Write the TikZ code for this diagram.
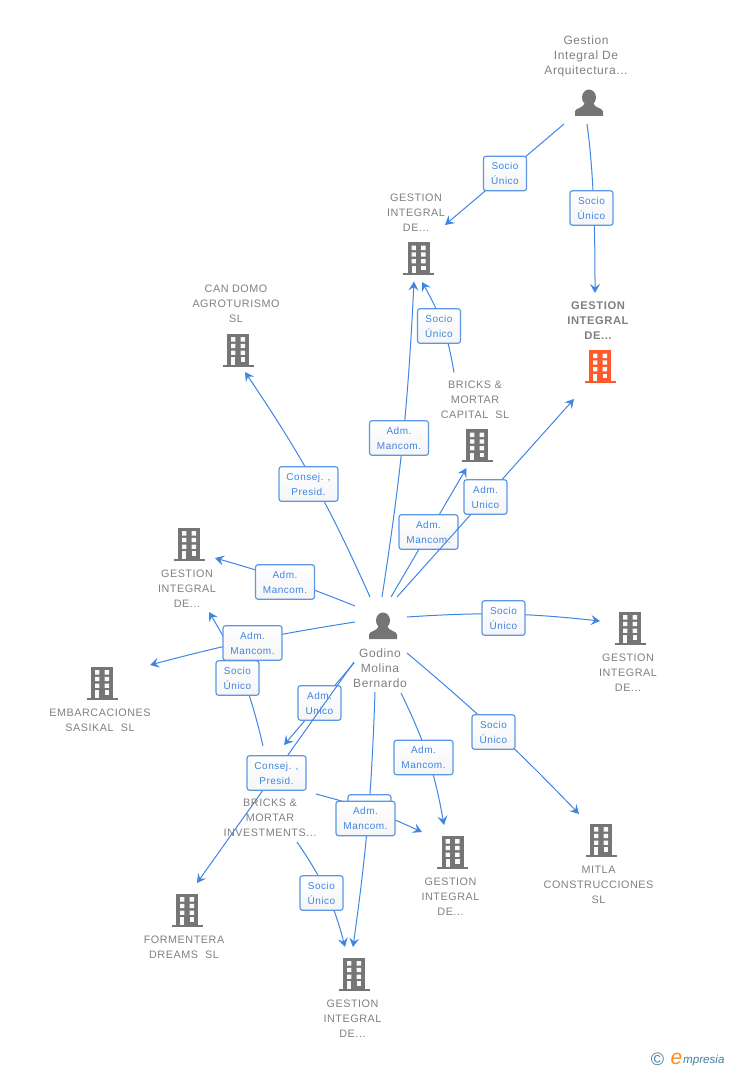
\documentclass[tikz,border=0pt]{standalone}
\usepackage{fontspec}
\setmainfont{Liberation Sans}
\newfontfamily\spaced[LetterSpace=5]{Liberation Sans}
\newfontfamily\spacedbold[LetterSpace=5]{Liberation Sans Bold}
\usetikzlibrary{arrows.meta}
\definecolor{linkblue}{HTML}{3F85E3}
\definecolor{boxblue}{HTML}{5B97E6}
\definecolor{textgray}{HTML}{808080}
\definecolor{icongray}{HTML}{757575}
\definecolor{iconorange}{HTML}{FF5A2C}
\definecolor{logoteal}{HTML}{3F7F9F}
\tikzset{
  link/.style={draw=linkblue,line width=1pt,-{Stealth[length=9pt,width=10pt,inset=3.5pt]}},
  tag/.style={draw=boxblue,line width=1.2pt,rounded corners=2.5pt,top color=white,bottom color=gray!8,
    text=linkblue,align=center,inner sep=0pt,minimum height=34.5pt,
    font=\spaced\fontsize{10}{15}\selectfont},
  tagwide/.style={tag,minimum width=59pt},
  tagthin/.style={tag,minimum width=43pt},
  caption/.style={text=textgray,align=center,inner sep=0pt,font=\spaced\fontsize{10.8}{15}\selectfont},
  bigcaption/.style={caption,font=\spaced\fontsize{12}{15}\selectfont},
  icon/.style={inner sep=0pt,minimum width=31pt,minimum height=33pt}
}
\newcommand{\building}[3]{
  \node[icon] (#1) at (#2) {};
  \begin{scope}[shift={(#2)}]
    \fill[#3] (-11,-16.5) rectangle (11,15);
    \fill[#3] (-15.5,14.5) rectangle (15.5,16.5);
    \foreach \wy in {-12.8,-6.2,0.5}
      \fill[white!96!gray] (-7,\wy) rectangle (-2.6,\wy+4.4) (2.6,\wy) rectangle (7,\wy+4.4);
    \fill[white!96!gray] (2.6,7.2) rectangle (7,11.5);
    \fill[white!96!gray] (-7,7.2) rectangle (-2.6,14.6);
  \end{scope}
}
\newcommand{\person}[2]{
  \node[icon] (#1) at (#2) {};
  \begin{scope}[shift={(#2)}]
    \fill[icongray] (0,-5.5) ellipse (7 and 8);
    \fill[icongray] (-14,13) -- (-14,8.5) .. controls (-14,5) and (-6,5.5) .. (-4,0) -- (4,0)
      .. controls (6,5.5) and (14,5) .. (14,8.5) -- (14,13) -- cycle;
  \end{scope}
}
\begin{document}
\begin{tikzpicture}[x=1pt,y=-1pt]
\useasboundingbox (0,0) rectangle (728,1070);

% entities
\person{arquitectura}{589,103}
\person{godino}{383,626}
\building{gestiontop}{418.5,258.5}{icongray}
\building{gestionmain}{600,366.5}{iconorange}
\building{candomo}{238,350}{icongray}
\building{capital}{477,445.5}{icongray}
\building{gestionleft}{189,544}{icongray}
\building{sasikal}{102,683}{icongray}
\building{gestionright}{630,628}{icongray}
\building{mitla}{601,840}{icongray}
\building{gestionlow}{452.5,852}{icongray}
\building{formentera}{187,910}{icongray}
\building{gestionbottom}{354,974}{icongray}
\coordinate (investments) at (270,817);

% connectors
\draw[link] ([shift={(-25,21)}]arquitectura.center) -- ([shift={(26.5,-33.5)}]gestiontop.center);
\draw[link] ([shift={(-2,21)}]arquitectura.center) to[out=-82,in=90,looseness=0.8] ([shift={(-5,-73.5)}]gestionmain.center);
\draw[link] ([shift={(-23,-73)}]capital.center) to[bend right=10] ([shift={(3.5,23.5)}]gestiontop.center);
\draw[link] ([shift={(-1,-29)}]godino.center) to[bend right=3] ([shift={(-4.5,23)}]gestiontop.center);
\draw[link] ([shift={(8,-29)}]godino.center) -- ([shift={(-10.5,22.5)}]capital.center);
\node[tagwide] (tagcapital) at (428.5,532) {Adm.\\Mancom.};
\draw[link] ([shift={(14,-29)}]godino.center) -- ([shift={(-26,32.5)}]gestionmain.center);
\draw[link] ([shift={(-13,-29)}]godino.center) to[bend right=5] ([shift={(7,22)}]candomo.center);
\draw[link] ([shift={(-28,-20)}]godino.center) to[bend right=3] ([shift={(26,14)}]gestionleft.center);
\draw[link] ([shift={(-28,-4)}]godino.center) to[bend right=3] ([shift={(48,-18)}]sasikal.center);
\draw[link] ([shift={(24,-9)}]godino.center) to[bend left=5] ([shift={(-30,-7)}]gestionright.center);
\draw[link] ([shift={(24,27)}]godino.center) to[bend left=3] ([shift={(-22,-26)}]mitla.center);
\draw[link] ([shift={(-8,66)}]godino.center) to[bend left=3] ([shift={(-1,-27)}]gestionbottom.center);
\draw[link] ([shift={(18,67)}]godino.center) to[bend left=8] ([shift={(-8.5,-27)}]gestionlow.center);
\draw[link] ([shift={(-29,37)}]godino.center) -- ([shift={(14,-72)}]investments);
\node[tagthin] (tagunico) at (319.5,703) {Adm.\\Unico};
\draw[link] ([shift={(-29,36)}]godino.center) -- ([shift={(10,-27)}]formentera.center);
\draw[link] ([shift={(-7,-71)}]investments) to[bend right=9] ([shift={(20,68)}]gestionleft.center);
\draw[link] ([shift={(46,-23)}]investments) to[bend left=5] ([shift={(-30.5,-20)}]gestionlow.center);
\draw[link] ([shift={(27,25)}]investments) to[bend left=10] ([shift={(-9,-27)}]gestionbottom.center);

% tags
\node[tagthin] (tagA) at (505,173.5) {Socio\\Único};
\node[tagthin] (tagB) at (591.5,208) {Socio\\Único};
\node[tagthin] (tagC) at (439,326) {Socio\\Único};
\node[tagwide] (tagD) at (399,438) {Adm.\\Mancom.};
\node[tagwide] (tagE) at (308.5,484) {Consej. ,\\Presid.};
\node[tagthin] (tagF) at (485.5,497) {Adm.\\Unico};
\node[tagwide] (tagG) at (285,582) {Adm.\\Mancom.};
\node[tagwide] (tagH) at (252.5,643) {Adm.\\Mancom.};
\node[tagthin] (tagI) at (237.5,678) {Socio\\Único};
\node[tagthin] (tagJ) at (503.5,618) {Socio\\Único};
\node[tagthin] (tagK) at (493.5,732) {Socio\\Único};
\node[tagwide] (tagL) at (423.5,757.5) {Adm.\\Mancom.};
\node[tagwide] (tagM) at (276.5,773) {Consej. ,\\Presid.};
\node[tagthin] (tagN) at (369.5,812) {};
\node[tagwide] (tagO) at (365.5,818.5) {Adm.\\Mancom.};
\node[tagthin] (tagP) at (321.5,893) {Socio\\Único};

% captions
\node[bigcaption] (capA) at (586,56) {Gestion\\Integral De\\Arquitectura...};
\node[caption] (capB) at (416,213) {GESTION\\INTEGRAL\\DE...};
\node[caption,font=\spacedbold\fontsize{11.2}{15}\selectfont] (capC) at (598,321) {GESTION\\INTEGRAL\\DE...};
\node[caption] (capD) at (236,304) {CAN DOMO\\AGROTURISMO\\SL};
\node[caption] (capE) at (475,400) {BRICKS \&\\MORTAR\\CAPITAL\ \ SL};
\node[caption] (capF) at (187,589) {GESTION\\INTEGRAL\\DE...};
\node[caption] (capG) at (100,720.5) {EMBARCACIONES\\SASIKAL\ \ SL};
\node[caption] (capH) at (628,673) {GESTION\\INTEGRAL\\DE...};
\node[bigcaption] (capI) at (380,668.5) {Godino\\Molina\\Bernardo};
\node[caption] (capJ) at (598.5,885) {MITLA\\CONSTRUCCIONES\\SL};
\node[caption] (capK) at (450.5,897) {GESTION\\INTEGRAL\\DE...};
\node[caption] (capL) at (270,818) {BRICKS \&\\MORTAR\\INVESTMENTS...};
\node[caption] (capM) at (184,947.5) {FORMENTERA\\DREAMS\ \ SL};
\node[caption] (capN) at (352.5,1019) {GESTION\\INTEGRAL\\DE...};

% logo
\node[inner sep=0pt,text=logoteal,font=\fontsize{18}{18}\selectfont] (logomark) at (657.5,1059) {©};
\node[inner sep=0pt,anchor=base west,text=logoteal,font=\itshape\fontsize{11.6}{15}\selectfont] (logotext) at (683,1063) {mpresia};
\node[inner sep=0pt,anchor=base east,text=iconorange!70!yellow,font=\itshape\fontsize{21}{21}\selectfont] (logoe) at (682.5,1064) {e};
\end{tikzpicture}
\end{document}
